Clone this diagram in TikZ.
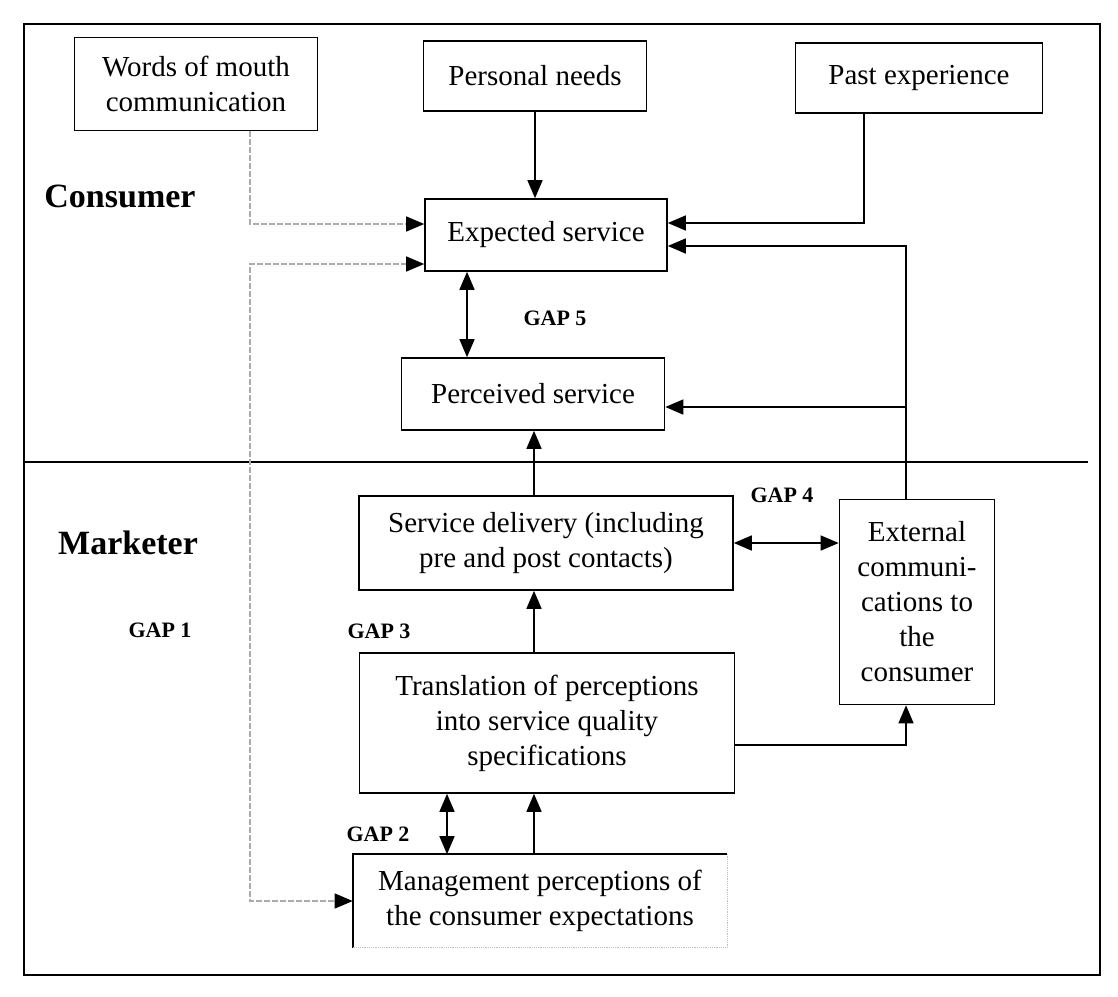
\documentclass[tikz,border=0pt]{standalone}
\usepackage{fontspec}
\setmainfont{Liberation Serif}
\usetikzlibrary{arrows.meta, positioning, calc}
\tikzset{
  box/.style={draw, line width=1.6pt, align=center, inner sep=0pt,
    font=\fontsize{29}{35}\selectfont},
  link/.style={-{Triangle[length=18pt,width=15pt]}, line width=1.5pt},
  twoway/.style={{Triangle[length=18pt,width=15pt]}-{Triangle[length=18pt,width=15pt]}, line width=1.5pt},
  dimlink/.style={line width=1.3pt, gray!65, dash pattern=on 6pt off 2pt},
  zone/.style={font=\bfseries\fontsize{34}{40}\selectfont},
  gaplabel/.style={font=\bfseries\fontsize{22}{26}\selectfont}
}

\begin{document}
\begin{tikzpicture}[x=1pt, y=-1pt]
\useasboundingbox (0,0) rectangle (1118,996);
% frame and split between the two sides
\draw[line width=1.6pt] (24,24) rectangle (1100,975);
\coordinate (divL) at (24,462);
\coordinate (divR) at (1088,462);
\draw[line width=1.6pt] (divL) -- (divR);

% columns used by the connectors
\coordinate (loop) at (250,0);
\coordinate (pastx) at (864,0);
\coordinate (g5x) at (467,0);
\coordinate (g2x) at (447,0);
\coordinate (upx) at (534,0);

% consumer side
\node[box, minimum width=243pt, minimum height=93pt] (wom) at (196,84) {Words of mouth\\communication};
\node[box, minimum width=223pt, minimum height=70pt] (needs) at (535,76) {Personal needs};
\node[box, minimum width=247pt, minimum height=70pt] (past) at (919,78) {Past experience};
\node[box, minimum width=242pt, minimum height=72pt] (expected) at (546,235) {Expected service};
\node[box, minimum width=263pt, minimum height=72pt] (perceived) at (533,394) {Perceived service};

% marketer side
\node[box, minimum width=374pt, minimum height=94pt] (delivery) at (546,543) {Service delivery (including\\pre and post contacts)};
\node[box, minimum width=155pt, minimum height=205pt] (external) at (917,602) {External\\communi-\\cations to\\the\\consumer};
\node[box, minimum width=375pt, minimum height=140pt] (translation) at (547,723) {Translation of perceptions\\into service quality\\specifications};
\node[box, draw=none, minimum width=373pt, minimum height=92pt] (mgmt) at (540,901) {Management perceptions of\\the consumer expectations};
\draw[line width=1.6pt] (mgmt.south west) -- (mgmt.north west) -- (mgmt.north east);
\draw[gray!50, densely dotted, line width=1.2pt] (mgmt.north east) -- (mgmt.south east) -- (mgmt.south west);

% labels
\node[zone] (consumer) at (120,196) {Consumer};
\node[zone] (marketer) at (128,543) {Marketer};
\node[gaplabel] (gap1) at (160,630) {GAP 1};
\node[gaplabel] (gap2) at (378,834) {GAP 2};
\node[gaplabel] (gap3) at (379,631) {GAP 3};
\node[gaplabel] (gap4) at (782,495) {GAP 4};
\node[gaplabel] (gap5) at (555,318) {GAP 5};

% connectors
\draw[link] (needs.south -| needs) -- (needs |- expected.north);
\draw[dimlink, -{Triangle[length=18pt,width=15pt,color=black]}] (wom.south -| loop) |- ([yshift=11pt]expected.west);
\draw[dimlink, {Triangle[length=18pt,width=15pt,color=black]}-{Triangle[length=18pt,width=15pt,color=black]}]
  ([yshift=-29pt]expected.west) -| (loop |- mgmt.west) -- (mgmt.west);
\draw[link] (past.south -| pastx) |- ([yshift=12pt]expected.east);
\draw[link] ([xshift=-11pt]external.north) |- ([yshift=-11pt]expected.east);
\draw[link] ([xshift=-11pt]external.north) |- ([yshift=-13pt]perceived.east);
\draw[twoway] (expected.south -| g5x) -- (perceived.north -| g5x);
\draw[link] (delivery.north -| upx) -- (perceived.south -| upx);
\draw[link] (translation.north -| upx) -- (delivery.south -| upx);
\draw[link] (mgmt.north -| upx) -- (translation.south -| upx);
\draw[twoway] (translation.south -| g2x) -- (mgmt.north -| g2x);
\draw[twoway] (delivery.east) -- (external.west |- delivery.east);
\draw[link] ([yshift=-22pt]translation.east) -| ([xshift=-11pt]external.south);
\end{tikzpicture}
\end{document}
